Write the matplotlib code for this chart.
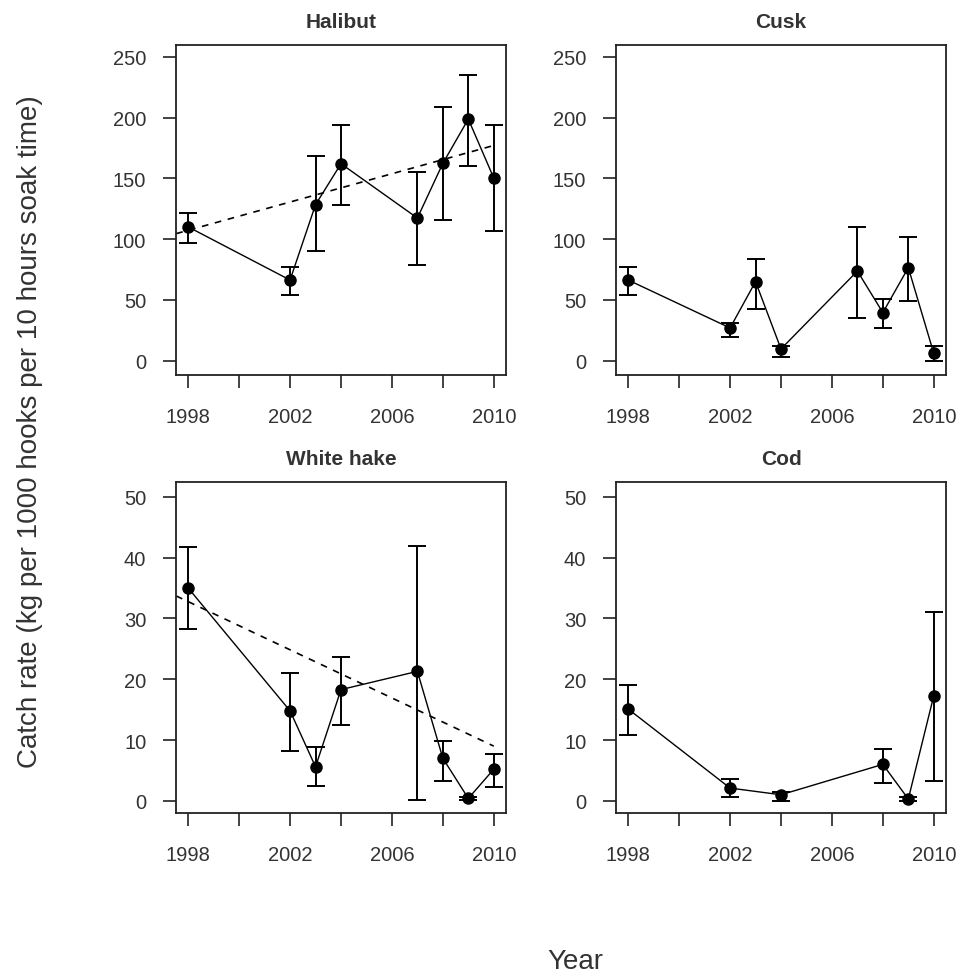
import matplotlib
matplotlib.use("Agg")
import matplotlib.pyplot as plt

plt.rcParams['font.family'] = ['Liberation Sans', 'DejaVu Sans']

# ---- data ----
halibut_years = [1998, 2002, 2003, 2004, 2007, 2008, 2009, 2010]
halibut_mean = [110, 66.3, 128.3, 162, 117.3, 162.3, 198.7, 150.2]
halibut_lo = [97, 54.3, 90.5, 128.3, 78.9, 115.4, 159.8, 106.9]
halibut_hi = [121.7, 77.3, 168.6, 193.8, 154.9, 208.6, 234.9, 193.8]
halibut_trend_x = [1997.53, 2010]
halibut_trend_y = [104.5, 177]

cusk_years = [1998, 2002, 2003, 2004, 2007, 2008, 2009, 2010]
cusk_mean = [66.3, 26.9, 65, 9.6, 73.7, 39.5, 76.5, 6]
cusk_lo = [54.3, 19.7, 42.5, 3.3, 34.8, 26.6, 49.3, 0]
cusk_hi = [77.3, 31, 83.9, 12.3, 109.6, 50.7, 101.7, 11.8]

hake_years = [1998, 2002, 2003, 2004, 2007, 2008, 2009, 2010]
hake_mean = [35, 14.8, 5.6, 18.3, 21.3, 7, 0.4, 5.2]
hake_lo = [28.3, 8.2, 2.4, 12.5, 0.1, 3.3, 0.2, 2.3]
hake_hi = [41.8, 21, 8.8, 23.6, 41.9, 9.8, 0.6, 7.7]
hake_trend_x = [1997.53, 2010]
hake_trend_y = [33.7, 9]

cod_years = [1998, 2002, 2004, 2008, 2009, 2010]
cod_mean = [15.1, 2.1, 1.0, 6.0, 0.3, 17.3]
cod_lo = [10.9, 0.7, 0.0, 3.0, 0.0, 3.3]
cod_hi = [19, 3.6, 1.5, 8.5, 0.6, 31.1]

titles = ["Halibut", "Cusk", "White hake", "Cod"]
x_ticks = [1998, 2000, 2002, 2004, 2006, 2008, 2010]
x_ticklabels = ["1998", "", "2002", "", "2006", "", "2010"]
y_ticks_top = [0, 50, 100, 150, 200, 250]
y_ticks_bottom = [0, 10, 20, 30, 40, 50]

panels = [
    (titles[0], halibut_years, halibut_mean, halibut_lo, halibut_hi, (halibut_trend_x, halibut_trend_y), y_ticks_top, (-11.8, 259.9)),
    (titles[1], cusk_years, cusk_mean, cusk_lo, cusk_hi, None, y_ticks_top, (-11.8, 259.9)),
    (titles[2], hake_years, hake_mean, hake_lo, hake_hi, (hake_trend_x, hake_trend_y), y_ticks_bottom, (-2.0, 52.5)),
    (titles[3], cod_years, cod_mean, cod_lo, cod_hi, None, y_ticks_bottom, (-2.0, 52.5)),
]

W, H = 961, 978
fig = plt.figure(figsize=(W / 100, H / 100), dpi=100)

# axes boxes in pixel coords (left, right, top, bottom)
boxes = [
    (176, 506, 45.7, 376),
    (616, 946, 45.7, 376),
    (176, 506, 482.7, 814),
    (616, 946, 482.7, 814),
]

txt_color = '#333333'
for (title, yrs, mean, lo, hi, trend, yt, ylim), (l, r, t, b) in zip(panels, boxes):
    ax = fig.add_axes([l / W, 1 - b / H, (r - l) / W, (b - t) / H])
    yerr = [[m - a for m, a in zip(mean, lo)], [c - m for m, c in zip(mean, hi)]]
    ax.errorbar(yrs, mean, yerr=yerr, fmt='none', ecolor='black', elinewidth=1.4,
                capsize=6.5, capthick=1.4, zorder=2)
    ax.plot(yrs, mean, color='black', lw=1.0, marker='o', markersize=8, zorder=3)
    if trend is not None:
        ax.plot(trend[0], trend[1], color='black', lw=1.2, linestyle=(0, (4, 4)), zorder=1)
    ax.set_xlim(1997.52, 2010.48)
    ax.set_ylim(*ylim)
    ax.set_xticks(x_ticks)
    ax.set_xticklabels(x_ticklabels)
    ax.set_yticks(yt)
    ax.set_yticklabels([str(v) for v in yt])
    ax.tick_params(direction='out', length=9.4, width=1.2, color='#222222',
                   labelsize=14.5, labelcolor=txt_color)
    ax.tick_params(axis='x', pad=14)
    ax.tick_params(axis='y', pad=12)
    for s in ax.spines.values():
        s.set_linewidth(1.3)
        s.set_color('#222222')
    ax.set_title(title, fontsize=15, fontweight='bold', color=txt_color, pad=12.5)

fig.text(30 / W, 1 - 432 / H, "Catch rate (kg per 1000 hooks per 10 hours soak time)",
         rotation=90, ha='center', va='center', fontsize=20, color=txt_color)
fig.text(575 / W, 1 - 962 / H, "Year", ha='center', va='center', fontsize=20, color=txt_color)

fig.savefig("out.png", dpi=100)
